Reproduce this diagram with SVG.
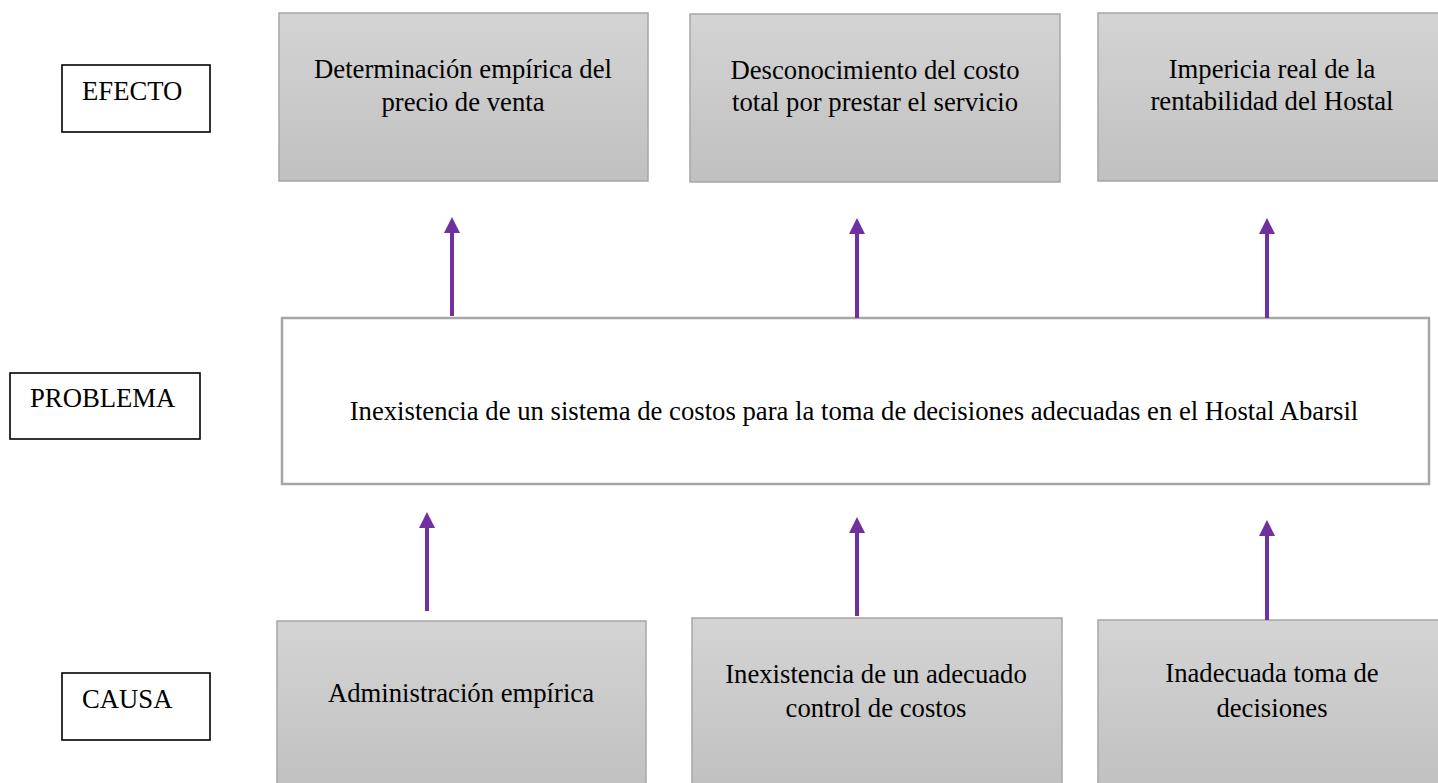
<svg xmlns="http://www.w3.org/2000/svg" width="1438" height="783" viewBox="0 0 1438 783">
<style>
.t{font-family:"Liberation Serif","Times New Roman",serif;font-size:26.7px;fill:#000;}
.c{text-anchor:middle;}
.lbl{fill:#fff;stroke:#000;stroke-width:1.6;}
.gbox{fill:url(#g);stroke:#a6a6a6;stroke-width:1.5;}
.pbox{fill:#fff;stroke:#a6a6a6;stroke-width:2.5;}
.arr{stroke:#7030a0;stroke-width:4;fill:none;marker-end:url(#ah);}
</style>
<defs>
<linearGradient id="g" x1="0" y1="0" x2="0" y2="1">
<stop offset="0" stop-color="#d4d4d4"/>
<stop offset="1" stop-color="#c0c0c0"/>
</linearGradient>
<marker id="ah" markerUnits="userSpaceOnUse" markerWidth="16" markerHeight="16" viewBox="0 0 16 16" refX="0" refY="8" orient="auto">
<path d="M0,0 L16,8 L0,16 Z" fill="#7030a0"/>
</marker>
</defs>
<g id="lbl-efecto"><rect class="lbl" x="62" y="65" width="148" height="67"/><text class="t" x="82" y="100">EFECTO</text></g>
<g id="lbl-problema"><rect class="lbl" x="10" y="373" width="190" height="66"/><text class="t" x="30" y="407">PROBLEMA</text></g>
<g id="lbl-causa"><rect class="lbl" x="62" y="673" width="148" height="67"/><text class="t" x="82" y="708">CAUSA</text></g>
<g id="efecto1"><rect class="gbox" x="279" y="13" width="369" height="168"/><text class="t c" x="463" y="78">Determinación empírica del</text><text class="t c" x="463" y="111">precio de venta</text></g>
<g id="efecto2"><rect class="gbox" x="690" y="14" width="370" height="168"/><text class="t c" x="875" y="79">Desconocimiento del costo</text><text class="t c" x="875" y="111">total por prestar el servicio</text></g>
<g id="efecto3"><rect class="gbox" x="1098" y="13" width="349" height="168"/><text class="t c" x="1272" y="78">Impericia real de la</text><text class="t c" x="1272" y="110">rentabilidad del Hostal</text></g>
<g id="problema"><rect class="pbox" x="282" y="318" width="1147" height="166"/><text class="t c" x="854" y="420">Inexistencia de un sistema de costos para la toma de decisiones adecuadas en el Hostal Abarsil</text></g>
<g id="causa1"><rect class="gbox" x="277" y="621" width="369" height="172"/><text class="t c" x="461" y="702">Administración empírica</text></g>
<g id="causa2"><rect class="gbox" x="692" y="618" width="370" height="175"/><text class="t c" x="876" y="683">Inexistencia de un adecuado</text><text class="t c" x="876" y="717">control de costos</text></g>
<g id="causa3"><rect class="gbox" x="1098" y="620" width="349" height="173"/><text class="t c" x="1272" y="682">Inadecuada toma de</text><text class="t c" x="1272" y="717">decisiones</text></g>
<g id="connectors">
<line class="arr" x1="452" y1="316" x2="452" y2="233"/>
<line class="arr" x1="857" y1="318" x2="857" y2="234"/>
<line class="arr" x1="1267" y1="318" x2="1267" y2="234"/>
<line class="arr" x1="427" y1="611" x2="427" y2="528"/>
<line class="arr" x1="857" y1="616" x2="857" y2="533"/>
<line class="arr" x1="1267" y1="620" x2="1267" y2="536"/>
</g>
</svg>
